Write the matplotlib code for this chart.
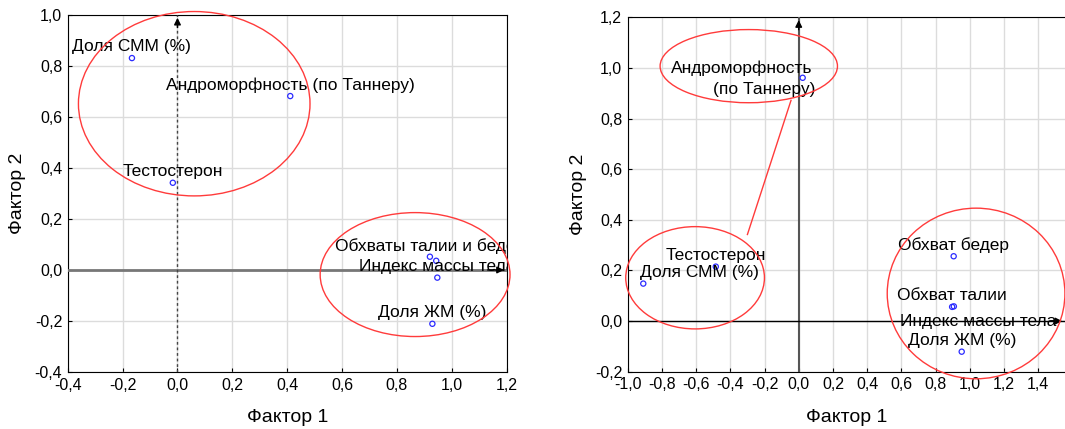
import numpy as np
import matplotlib.pyplot as plt
from matplotlib.patches import Ellipse
from matplotlib.ticker import FuncFormatter

plt.rcParams['font.family'] = ['Liberation Sans', 'DejaVu Sans']

# left chart: factor loadings
left_names = ["Доля СММ (%)", "Андроморфность (по Таннеру)", "Тестостерон",
              "Обхваты талии и бедер", "", "Индекс массы тела", "Доля ЖМ (%)"]
left_f1 = [-0.166, 0.411, -0.017, 0.920, 0.943, 0.947, 0.929]
left_f2 = [0.831, 0.682, 0.342, 0.052, 0.036, -0.030, -0.211]

# right chart: factor loadings
right_names = ["Андроморфность (по Таннеру)", "Тестостерон", "Доля СММ (%)",
               "Обхват бедер", "Обхват талии", "Индекс массы тела", "Доля ЖМ (%)"]
right_f1 = [0.023, -0.485, -0.909, 0.906, 0.897, 0.907, 0.953]
right_f2 = [0.961, 0.215, 0.148, 0.256, 0.056, 0.058, -0.121]

RED = '#ff3b3b'
BLUE = '#2b2bff'


def fmt(v, p):
    s = f"{v:.1f}".replace('.', ',')
    return "0,0" if s == "-0,0" else s


comma = FuncFormatter(fmt)


def setup(ax, xlim, ylim, xticks, yticks):
    ax.set_xlim(*xlim)
    ax.set_ylim(*ylim)
    ax.set_xticks(xticks)
    ax.set_yticks(yticks)
    ax.xaxis.set_major_formatter(comma)
    ax.yaxis.set_major_formatter(comma)
    ax.grid(True, color='#dcdcdc', lw=1)
    ax.set_axisbelow(True)
    ax.tick_params(labelsize=11.5, length=3, direction='in', pad=4)
    ax.set_xlabel("Фактор 1", fontsize=14, labelpad=12)
    ax.set_ylabel("Фактор 2", fontsize=14)


def points(ax, xs, ys):
    ax.scatter(xs, ys, s=14, facecolors='none', edgecolors=BLUE, linewidths=0.9, zorder=5)


def label(ax, name, x, y, clip=True):
    ax.annotate(name, (x, y), xytext=(0, 8), textcoords='offset points',
                ha='center', va='center', fontsize=12.5, annotation_clip=False,
                clip_on=clip, zorder=6)


fig = plt.figure(figsize=(10.65, 4.29), dpi=100)

# ---- left chart
ax1 = fig.add_axes([0.0636, 0.1329, 0.4122, 0.8322])
setup(ax1, (-0.4, 1.2), (-0.4, 1.0), np.arange(-0.4, 1.21, 0.2), np.arange(-0.4, 1.01, 0.2))
ax1.plot([-0.4, 1.2], [0, 0], color='#777777', lw=2, zorder=3)
ax1.annotate('', xy=(1.2, 0), xytext=(1.12, 0),
             arrowprops=dict(arrowstyle='-|>', color='black', lw=1, mutation_scale=10), zorder=4)
ax1.plot([0, 0], [-0.4, 1.0], color='#444444', lw=1, ls=(0, (2, 2)), zorder=3)
ax1.annotate('', xy=(0, 1.0), xytext=(0, 0.94),
             arrowprops=dict(arrowstyle='-|>', color='black', lw=1, mutation_scale=10), zorder=4)
points(ax1, left_f1, left_f2)
for n, x, y in zip(left_names, left_f1, left_f2):
    if n:
        label(ax1, n, x, y)
for cx, cy, w, h in [(0.061, 0.652, 0.844, 0.723), (0.866, -0.018, 0.692, 0.486)]:
    ax1.add_patch(Ellipse((cx, cy), w, h, fill=False, ec=RED, lw=1, clip_on=False, zorder=7))
ax1.yaxis.set_label_coords(-0.094, 0.5)

# ---- right chart
ax2 = fig.add_axes([0.5894, 0.1336, 0.4106, 0.8261])
setup(ax2, (-1.0, 1.557), (-0.2, 1.2), np.arange(-1.0, 1.41, 0.2), np.arange(-0.2, 1.21, 0.2))
ax2.spines['right'].set_visible(False)
ax2.plot([0, 0], [-0.2, 1.2], color='#555555', lw=1.5, zorder=3)
ax2.annotate('', xy=(0, 1.2), xytext=(0, 1.14),
             arrowprops=dict(arrowstyle='-|>', color='black', lw=1, mutation_scale=10), zorder=4)
ax2.plot([-1.0, 1.557], [0, 0], color='black', lw=1, zorder=3)
ax2.annotate('', xy=(1.557, 0), xytext=(1.5, 0),
             arrowprops=dict(arrowstyle='-|>', color='black', lw=1, mutation_scale=10), zorder=4)
points(ax2, right_f1, right_f2)
ax2.text(-0.745, 1.0, "Андроморфность", ha='left', va='center', fontsize=12.5)
ax2.text(-0.5, 0.915, "(по Таннеру)", ha='left', va='center', fontsize=12.5)
for n, x, y in zip(right_names[1:], right_f1[1:], right_f2[1:]):
    if n == "Доля СММ (%)":
        ax2.text(x - 0.02, y + 0.044, n, ha='left', va='center', fontsize=12.5, zorder=6)
    elif n == "Индекс массы тела":
        ax2.text(0.595, 0.0, n, ha='left', va='center', fontsize=12.5, zorder=6, clip_on=True)
    else:
        label(ax2, n, x, y)
for cx, cy, w, h in [(-0.292, 1.007, 1.037, 0.289), (-0.606, 0.171, 0.811, 0.404),
                     (1.037, 0.109, 1.039, 0.674)]:
    ax2.add_patch(Ellipse((cx, cy), w, h, fill=False, ec=RED, lw=1, clip_on=False, zorder=7))
ax2.plot([-0.045, -0.30], [0.872, 0.342], color=RED, lw=1, zorder=7)
ax2.yaxis.set_label_coords(-0.093, 0.5)

fig.savefig('out.png', dpi=100)
